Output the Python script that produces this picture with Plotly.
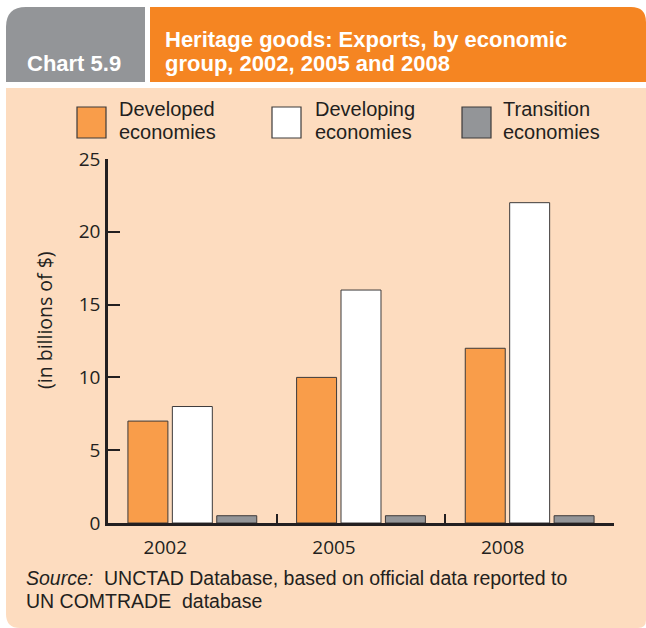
import plotly.graph_objects as go

W, H = 646, 628

years = ["2002", "2005", "2008"]
series_names = ["Developed<br>economies", "Developing<br>economies", "Transition<br>economies"]
developed = [7, 10, 12]
developing = [8, 16, 22]
transition = [0.5, 0.5, 0.5]
y_ticks = [0, 5, 10, 15, 20, 25]
title_lines = ["Heritage goods: Exports, by economic", "group, 2002, 2005 and 2008"]
source_lines = ["<i>Source:</i>  UNCTAD Database, based on official data reported to", "UN COMTRADE  database"]

colors = ["#f99d4a", "#ffffff", "#939598"]
edge = "#3d3a3a"
peach = "#fddcbf"
orange = "#f58522"
grey = "#939598"
dark = "#231f20"


def px(x):
    return x / W


def py(y):
    return 1 - y / H


fig = go.Figure()
for name, vals, c in zip(series_names, [developed, developing, transition], colors):
    fig.add_trace(go.Bar(x=years, y=vals, name=name, marker=dict(color=c, line=dict(color=edge, width=1)),
                         showlegend=False, hoverinfo="skip"))

shapes = []
r = 20
shapes.append(dict(type="path", xref="paper", yref="paper", layer="below",
                   path=f"M {px(6)} {py(82)} L {px(6)} {py(7 + r)} Q {px(6)} {py(7)} {px(6 + r)} {py(7)} "
                        f"L {px(145)} {py(7)} L {px(145)} {py(82)} Z",
                   fillcolor=grey, line=dict(width=0)))
r2 = 15
shapes.append(dict(type="path", xref="paper", yref="paper", layer="below",
                   path=f"M {px(150)} {py(82)} L {px(150)} {py(7)} L {px(646 - r2)} {py(7)} "
                        f"Q {px(646)} {py(7)} {px(646)} {py(7 + r2)} L {px(646)} {py(82)} Z",
                   fillcolor=orange, line=dict(width=0)))
r3 = 14
r4 = 8
shapes.append(dict(type="path", xref="paper", yref="paper", layer="below",
                   path=f"M {px(6)} {py(88)} L {px(646)} {py(88)} L {px(646)} {py(628 - r4)} "
                        f"Q {px(646)} {py(628)} {px(646 - r4)} {py(628)} L {px(6 + r3)} {py(628)} "
                        f"Q {px(6)} {py(628)} {px(6)} {py(628 - r3)} Z",
                   fillcolor=peach, line=dict(width=0)))

leg_x = [77, 272, 462]
for lx, c in zip(leg_x, colors):
    shapes.append(dict(type="rect", xref="paper", yref="paper",
                       x0=px(lx), x1=px(lx + 29), y0=py(138), y1=py(107),
                       fillcolor=c, line=dict(color=edge, width=1.2)))


def label(text, x, y, size, color, family="Liberation Sans, Arial", **kw):
    d = dict(text=text, x=px(x), y=py(y), xref="paper", yref="paper", align="left",
             xanchor="left", yanchor="middle", showarrow=False,
             font=dict(family=family, size=size, color=color))
    d.update(kw)
    return d


annotations = [
    label("<b>Chart 5.9</b>", 25, 63, 22, "white"),
    label(f"<b>{title_lines[0]}</b>", 163, 40, 22, "white"),
    label(f"<b>{title_lines[1]}</b>", 163, 63, 22, "white"),
    label("(in billions of $)", 44, 320, 19.5, dark, family="Open Sans, DejaVu Sans",
          textangle=-90, xanchor="center"),
    label(source_lines[0], 24, 578, 19.5, dark),
    label(source_lines[1], 24, 601, 19.5, dark),
]
leg_tx = [117, 313, 501]
for tx, name in zip(leg_tx, series_names):
    l1, l2 = name.split("<br>")
    annotations.append(label(l1, tx, 109, 20, dark))
    annotations.append(label(l2, tx, 132, 20, dark))

fig.update_layout(
    template="none",
    width=W, height=H, autosize=False,
    margin=dict(l=0, r=0, t=0, b=0, pad=0, autoexpand=False),
    paper_bgcolor="white", plot_bgcolor="rgba(0,0,0,0)",
    barmode="group", bargap=0.21, bargroupgap=0.1,
    shapes=shapes, annotations=annotations,
    xaxis=dict(domain=[px(108), px(614)], type="category", tickson="boundaries",
               ticks="inside", ticklen=9, tickwidth=2, tickcolor=dark, automargin=False,
               showline=True, linecolor=dark, linewidth=2.5, showgrid=False, zeroline=False,
               ticklabelshift=-27, ticklabelstandoff=5,
               tickfont=dict(family="Open Sans, DejaVu Sans", size=19, color=dark)),
    yaxis=dict(domain=[py(523), py(159)], range=[0, 25], tickvals=y_ticks, automargin=False,
               ticks="inside", ticklen=12, tickwidth=2, tickcolor=dark,
               showline=True, linecolor=dark, linewidth=2.5, showgrid=False, zeroline=False,
               ticklabelstandoff=1,
               tickfont=dict(family="Open Sans, DejaVu Sans", size=19, color=dark)),
)

fig.write_html("out.html", config={"displayModeBar": False},
               post_script="document.body.style.margin='0';document.body.style.overflow='hidden';")
